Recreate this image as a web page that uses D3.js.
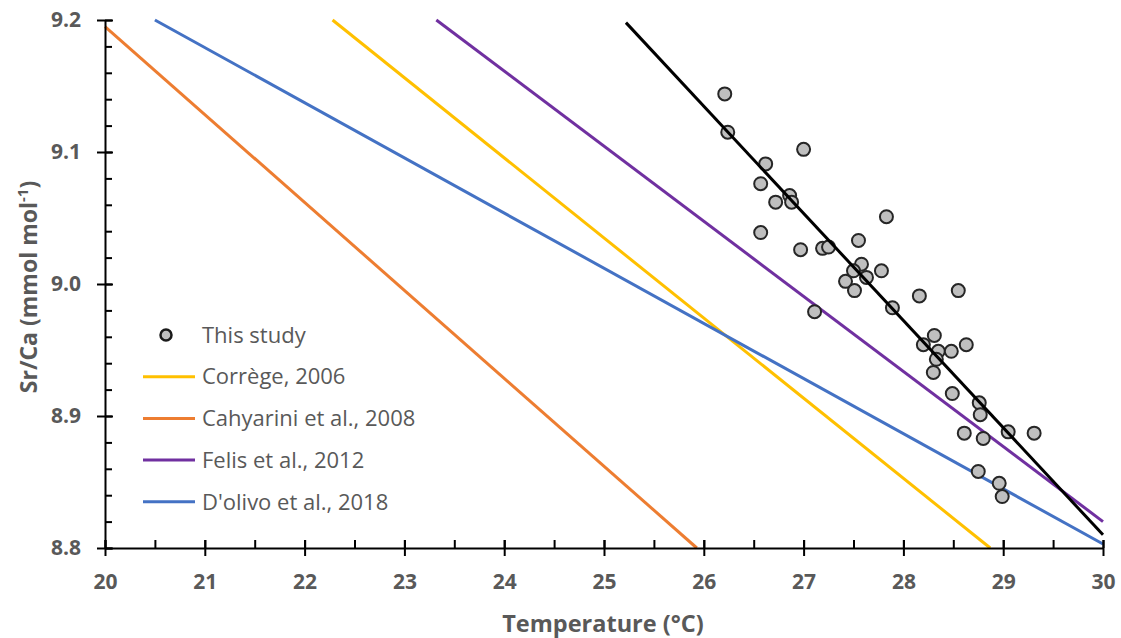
<!DOCTYPE html>
<html>
<head>
<meta charset="utf-8">
<script src="https://cdn.jsdelivr.net/npm/d3@7"></script>
<style>
  body { margin: 0; background: #fff; }
  text { font-family: "Open Sans", "Noto Sans", sans-serif; }
</style>
</head>
<body>
<div id="chart"></div>
<script>
// Sr/Ca vs temperature calibration chart

// This study: coral Sr/Ca against SST
const studyTemp = [26.21, 26.24, 27.00, 26.62, 26.57, 26.86, 26.72, 26.88, 27.83, 26.57,
  27.55, 26.97, 27.19, 27.25, 27.58, 27.50, 27.78, 27.63, 27.42, 27.51,
  27.89, 27.11, 28.16, 28.55, 28.31, 28.20, 28.35, 28.48, 28.63, 28.33,
  28.30, 28.49, 28.76, 28.77, 28.61, 28.80, 29.05, 29.31, 28.75, 28.96, 28.99];
const studySrCa = [9.144, 9.115, 9.102, 9.091, 9.076, 9.067, 9.062, 9.062, 9.051, 9.039,
  9.033, 9.026, 9.027, 9.028, 9.015, 9.010, 9.010, 9.005, 9.002, 8.995,
  8.982, 8.979, 8.991, 8.995, 8.961, 8.954, 8.949, 8.949, 8.954, 8.943,
  8.933, 8.917, 8.910, 8.901, 8.887, 8.883, 8.888, 8.887, 8.858, 8.849, 8.839];

// regression through this study's data (end points)
const fitTemp = [25.22, 30.0];
const fitSrCa = [9.198, 8.810];

// published calibrations: end points of each line
const calNames = ["Corrège, 2006", "Cahyarini et al., 2008", "Felis et al., 2012", "D'olivo et al., 2018"];
const calColours = ["#ffc000", "#ed7d31", "#7030a0", "#4472c4"];
const calTemp = [[22.28, 28.87], [20.0, 25.93], [23.32, 30.0], [20.50, 30.0]];
const calSrCa = [[9.2, 8.8], [9.195, 8.8], [9.2, 8.820], [9.2, 8.803]];

const xTicks = [20, 21, 22, 23, 24, 25, 26, 27, 28, 29, 30];
const yTicks = [8.8, 8.9, 9.0, 9.1, 9.2];

const width = 1121, height = 638;
const grey = "#595959";

const svg = d3.select("#chart").append("svg")
  .attr("width", width).attr("height", height);

const x = d3.scaleLinear().domain([20, 30]).range([105, 1103]);
const y = d3.scaleLinear().domain([8.8, 9.2]).range([548, 20]);

// calibration lines
const line = d3.line().x(d => x(d[0])).y(d => y(d[1]));
calNames.forEach((n, i) => {
  svg.append("path")
    .attr("d", line(d3.zip(calTemp[i], calSrCa[i])))
    .attr("fill", "none").attr("stroke", calColours[i]).attr("stroke-width", 3);
});

// axes: minor ticks inside, major ticks crossing
const minorX = d3.range(20, 30.01, 0.5);
const minorY = d3.range(8.8, 9.201, 0.02);

svg.append("g").attr("transform", `translate(0,${y(8.8)})`)
  .call(d3.axisBottom(x).tickValues(minorX).tickSize(-8).tickFormat(""))
  .call(g => g.selectAll("line").attr("stroke", "#000").attr("stroke-width", 2))
  .call(g => g.select(".domain").remove());
svg.append("g").attr("transform", `translate(${x(20)},0)`)
  .call(d3.axisLeft(y).tickValues(minorY).tickSize(-7).tickFormat(""))
  .call(g => g.selectAll("line").attr("stroke", "#000").attr("stroke-width", 2))
  .call(g => g.select(".domain").remove());

const xAxis = svg.append("g").attr("transform", `translate(0,${y(8.8)})`)
  .call(d3.axisBottom(x).tickValues(xTicks).tickSize(8).tickSizeOuter(0).tickPadding(18).tickFormat(d3.format("d")));
xAxis.selectAll(".tick line").attr("y1", -8).attr("y2", 8);
const yAxis = svg.append("g").attr("transform", `translate(${x(20)},0)`)
  .call(d3.axisLeft(y).tickValues(yTicks).tickSize(8).tickSizeOuter(0).tickPadding(16).tickFormat(d3.format(".1f")));
yAxis.selectAll(".tick line").attr("x1", -8).attr("x2", 8);

[xAxis, yAxis].forEach(a => {
  a.select(".domain").attr("stroke", "#000").attr("stroke-width", 2);
  a.selectAll(".tick line").attr("stroke", "#000").attr("stroke-width", 2);
  a.selectAll(".tick text").attr("fill", grey)
    .style("font-size", "21px").style("font-weight", "bold")
    .style("font-family", "'Open Sans', sans-serif");
});

// this study points
svg.append("g").selectAll("circle")
  .data(d3.zip(studyTemp, studySrCa))
  .join("circle")
  .attr("cx", d => x(d[0])).attr("cy", d => y(d[1])).attr("r", 6.5)
  .attr("fill", "#bfbfbf").attr("stroke", "#262626").attr("stroke-width", 2);

svg.append("path")
  .attr("d", line(d3.zip(fitTemp, fitSrCa)))
  .attr("fill", "none").attr("stroke", "#000").attr("stroke-width", 3);

// axis titles
svg.append("text")
  .attr("x", 603).attr("y", 632)
  .attr("text-anchor", "middle").attr("fill", grey)
  .style("font-size", "23.5px").style("font-weight", "bold")
  .text("Temperature (°C)");

const yt = svg.append("text")
  .attr("transform", "translate(37,287) rotate(-90)")
  .attr("text-anchor", "middle").attr("fill", grey)
  .style("font-size", "23px").style("font-weight", "bold");
yt.append("tspan").text("Sr/Ca (mmol mol");
yt.append("tspan").attr("dy", -9).style("font-size", "15px").text("-1");
yt.append("tspan").attr("dy", 9).text(")");

// legend
const legend = svg.append("g");
const rowY = i => 335 + i * 41.7;
legend.append("circle").attr("cx", 166).attr("cy", rowY(0)).attr("r", 5.5)
  .attr("fill", "#bfbfbf").attr("stroke", "#1a1a1a").attr("stroke-width", 2.5);
legend.append("text").attr("x", 202).attr("y", rowY(0)).attr("dy", "0.35em")
  .attr("fill", grey).style("font-size", "22px").text("This study");
calNames.forEach((n, i) => {
  legend.append("line")
    .attr("x1", 143).attr("x2", 195).attr("y1", rowY(i + 1)).attr("y2", rowY(i + 1))
    .attr("stroke", calColours[i]).attr("stroke-width", 3);
  legend.append("text").attr("x", 202).attr("y", rowY(i + 1)).attr("dy", "0.35em")
    .attr("fill", grey).style("font-size", "22px").text(n);
});
</script>
</body>
</html>
